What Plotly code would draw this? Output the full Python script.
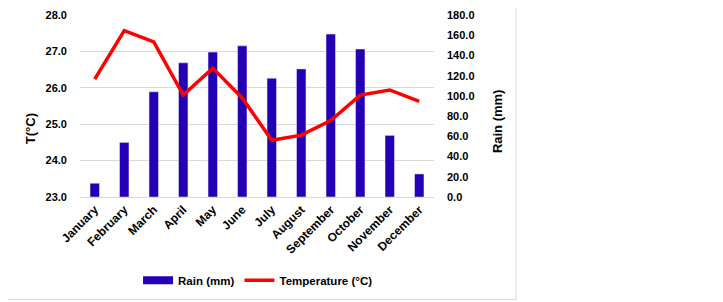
import plotly.graph_objects as go

months = ["January", "February", "March", "April", "May", "June", "July",
          "August", "September", "October", "November", "December"]
rain = [13.6, 54.0, 104.0, 132.7, 143.3, 149.5, 117.5, 126.7, 161.1, 146.3, 60.9, 22.8]
temp = [26.24, 27.57, 27.26, 25.80, 26.54, 25.72, 24.56, 24.70, 25.10, 25.80, 25.94, 25.63]
temp_ticks = [23.0, 24.0, 25.0, 26.0, 27.0, 28.0]
rain_ticks = [0, 20, 40, 60, 80, 100, 120, 140, 160, 180]

FONT = "Liberation Sans"
BLUE = "#2300B5"
RED = "#FF0000"

fig = go.Figure()
# bars on primary axis (right side), line on overlaying axis so it draws on top
fig.add_trace(go.Bar(x=months, y=rain, name="Rain (mm)", yaxis="y",
                     marker=dict(color=BLUE), width=0.32, showlegend=False))
fig.add_trace(go.Scatter(x=[None], y=[None], name="Rain (mm)", yaxis="y",
                         mode="lines", line=dict(color=BLUE, width=8)))
fig.add_trace(go.Scatter(x=months, y=temp, name="Temperature (°C)", yaxis="y2",
                         mode="lines", line=dict(color=RED, width=3.5)))

title_font = dict(family=FONT, size=13, color="#000", weight="bold")

fig.update_layout(
    width=715, height=294,
    margin=dict(l=72, r=289, t=7, b=105),
    paper_bgcolor="white", plot_bgcolor="white",
    font=dict(family=FONT, size=11, color="#000000"),
    showlegend=True,
    legend=dict(orientation="h", x=0.503, xanchor="center", y=-0.457, yanchor="middle",
                font=dict(family=FONT, size=11.5, color="#000", weight="bold"),
                traceorder="normal", itemwidth=30),
    xaxis=dict(tickangle=-45, showgrid=False, showline=True, linecolor="#d9d9d9",
               tickfont=dict(family=FONT, size=12, weight="bold"), ticks=""),
    yaxis=dict(range=[0, 180], tickvals=rain_ticks,
               ticktext=[f"{v:.1f}" for v in rain_ticks],
               side="right", showgrid=False, zeroline=False, automargin=False,
               tickfont=dict(family=FONT, size=11, weight="bold"),
               ticklabelstandoff=12),
    yaxis2=dict(range=[23, 28], tickvals=temp_ticks,
                ticktext=[f"{v:.1f}" for v in temp_ticks],
                overlaying="y", side="left", automargin=False,
                showgrid=True, gridcolor="#d9d9d9", zeroline=False,
                tickfont=dict(family=FONT, size=11, weight="bold"),
                ticklabelstandoff=12),
    bargap=0.5,
    annotations=[
        dict(text="T(°C)", textangle=-90, xref="paper", yref="paper",
             x=-0.141, y=0.373, xanchor="center", yanchor="middle",
             showarrow=False, font=title_font),
        dict(text="Rain (mm)", textangle=-90, xref="paper", yref="paper",
             x=1.178, y=0.417, xanchor="center", yanchor="middle",
             showarrow=False, font=title_font),
    ],
)

fig.add_shape(type="rect", xref="paper", yref="paper",
              x0=-0.223, x1=1.2316, y0=-0.564, y1=1.079,
              line=dict(color="#d9d9d9", width=1), fillcolor="rgba(0,0,0,0)", layer="below")

fig.write_html("out.html")
